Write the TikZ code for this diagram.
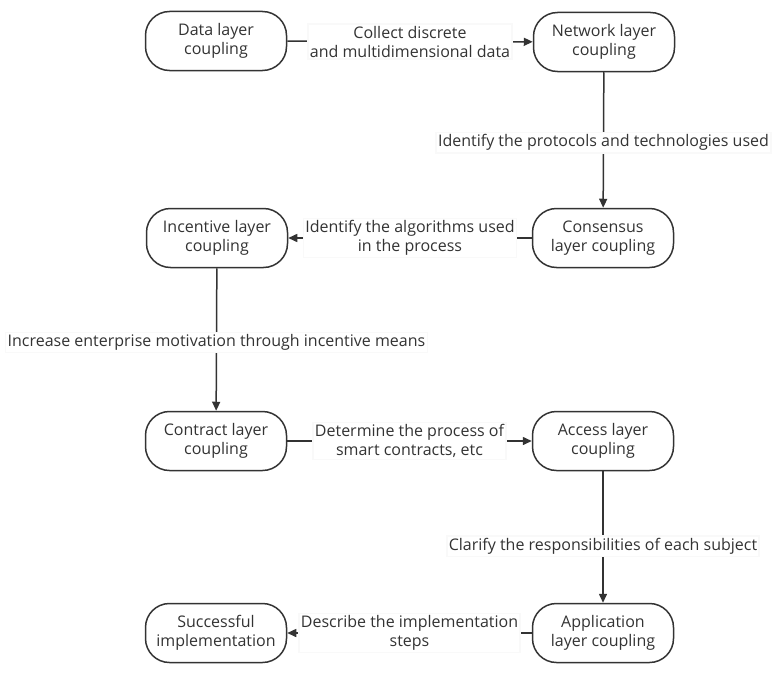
\documentclass[tikz,border=0pt]{standalone}
\usepackage{fontspec}
\setmainfont{Open Sans}
\usetikzlibrary{arrows.meta}
\definecolor{ink}{HTML}{333333}
\tikzset{
  stage/.style={draw=ink, line width=1.5pt, rounded corners=24pt, minimum width=141pt, minimum height=59pt, align=center, text=ink, font=\fontsize{16}{19}\selectfont},
  lbl/.style={fill=white, draw=gray!5, align=center, text=ink, font=\fontsize{16}{19}\selectfont, inner sep=2pt},
  flow/.style={draw=ink, line width=1.5pt, -{Triangle[length=9pt,width=8pt]}}
}
\begin{document}
\begin{tikzpicture}[x=1pt,y=-1pt]
\useasboundingbox (0,0) rectangle (773,677);
\node[stage] (data) at (216,41) {Data layer\\coupling};
\node[stage] (net) at (604,42) {Network layer\\coupling};
\node[stage] (cons) at (603,238) {Consensus\\layer coupling};
\node[stage] (inc) at (217,238) {Incentive layer\\coupling};
\node[stage] (con) at (216,441) {Contract layer\\coupling};
\node[stage] (acc) at (603,441) {Access layer\\coupling};
\node[stage] (succ) at (216,633) {Successful\\implementation};
\node[stage] (app) at (603,633) {Application\\layer coupling};
\draw[flow] (data) -- node[lbl] {Collect discrete\\and multidimensional data} (net);
\draw[flow] (net) -- node[lbl, pos=0.52] {Identify the protocols and technologies used} (cons);
\draw[flow] (cons) -- node[lbl] {Identify the algorithms used\\in the process} (inc);
\draw[flow] (inc) -- node[lbl, pos=0.52] {Increase enterprise motivation through incentive means} (con);
\draw[flow] (con) -- node[lbl] {Determine the process of\\smart contracts, etc} (acc);
\draw[flow] (acc) -- node[lbl, pos=0.57] {Clarify the responsibilities of each subject} (app);
\draw[flow] (app) -- node[lbl] {Describe the implementation\\steps} (succ);
\end{tikzpicture}
\end{document}
